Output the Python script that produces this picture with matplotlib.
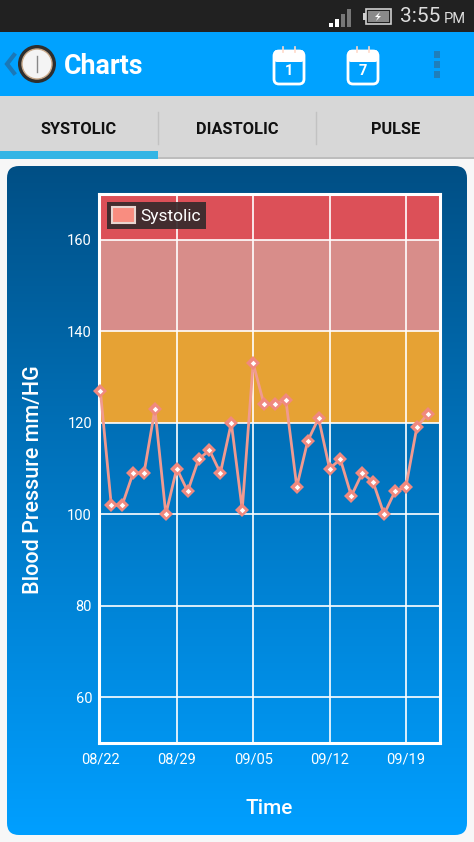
import numpy as np
import pandas as pd
import matplotlib
matplotlib.use('Agg')
import matplotlib.pyplot as plt
import matplotlib.dates as mdates
from matplotlib.colors import LinearSegmentedColormap
from matplotlib.patches import Rectangle, FancyBboxPatch, Circle, Patch

plt.rcParams['font.family'] = ['Roboto', 'DejaVu Sans']

# values
systolic = [127, 102, 102, 109, 109, 123, 100, 110, 105, 112, 114, 109, 120, 101, 133, 124,
            124, 125, 106, 116, 121, 110, 112, 104, 109, 107, 100, 105, 106, 119, 122]
start_date = '2013-08-22'
x_ticks = ['2013-08-22', '2013-08-29', '2013-09-05', '2013-09-12', '2013-09-19']
y_ticks = [60, 80, 100, 120, 140, 160]
band_limits = [(120, 140), (140, 160), (160, 170)]
band_colors = ['#e6a234', '#d88d8a', '#dc5058']
tab_names = ['SYSTOLIC', 'DIASTOLIC', 'PULSE']
calendar_days = ['1', '7']

dates = pd.date_range(start_date, periods=len(systolic))

W, H = 474, 842
fig = plt.figure(figsize=(W / 100, H / 100), dpi=100, facecolor='#f7f7f7')

# phone screen drawn in pixel coordinates
ui = fig.add_axes([0, 0, 1, 1], zorder=0)

# rounded gradient panel behind the chart
panel = FancyBboxPatch((7 + 12, 166 + 12), 460 - 24, 669 - 24, boxstyle='round,pad=12,rounding_size=12',
                       linewidth=0, facecolor='none')
ui.add_patch(panel)
grad_cmap = LinearSegmentedColormap.from_list('panel', ['#004f85', '#006bb0', '#0085d8', '#009fff'])
grad = np.linspace(0, 1, 256).reshape(-1, 1)
im = ui.imshow(grad, cmap=grad_cmap, extent=(7, 467, 835, 166), aspect='auto')
im.set_clip_path(panel)

# status bar
ui.add_patch(Rectangle((0, 0), W, 32, color='#212121', lw=0))
for i, (col, top) in enumerate(zip(['white', 'white', '#777777', '#777777'], [23, 19, 14, 9])):
    ui.add_patch(Rectangle((329 + i * 6, top), 4.5, 27 - top, color=col, lw=0))
ui.add_patch(Rectangle((366, 9), 25, 15, fill=False, ec='#cfcfcf', lw=1.2))
ui.add_patch(Rectangle((368, 11), 21, 11, color='#8a8a8a', lw=0))
ui.add_patch(Rectangle((363, 13), 3, 7, color='#cfcfcf', lw=0))
ui.fill([380, 375, 378, 376, 381, 378], [12, 17, 17, 21, 16, 16], color='white', lw=0)
ui.text(400, 17, '3:55', color='#dddddd', fontsize=15, ha='left', va='center')
ui.text(444, 19, 'PM', color='#dddddd', fontsize=10.5, ha='left', va='center')

# action bar
ui.add_patch(Rectangle((0, 32), W, 64, color='#00a2ff', lw=0))
ui.plot([14, 7, 14], [55, 64, 73], color='#1b78b8', lw=3, solid_joinstyle='miter')
ui.add_patch(Circle((37, 64), 19, fc='#2e2e2e', ec='none'))
ui.add_patch(Circle((37, 64), 15, fc='#f4f4f4', ec='#c8a98a', lw=1))
ui.plot([37, 37], [56, 72], color='#888888', lw=1)
ui.text(64, 66, 'Charts', color='white', fontsize=19.3, fontweight='bold', ha='left', va='center')
for left, day in zip([273, 347], calendar_days):
    ui.add_patch(FancyBboxPatch((left + 4, 54), 24, 27, boxstyle='round,pad=3,rounding_size=5',
                                fc='#00a2ff', ec='white', lw=2))
    ui.add_patch(FancyBboxPatch((left + 3, 52), 26, 8, boxstyle='round,pad=2,rounding_size=3',
                                fc='white', ec='none'))
    ui.plot([left + 10, left + 10], [47, 52], color='#ffd9c8', lw=1.2)
    ui.plot([left + 22, left + 22], [47, 52], color='#ffd9c8', lw=1.2)
    ui.text(left + 16, 71, day, color='white', fontsize=10.5, fontweight='bold', ha='center', va='center')
for top in [51, 61, 71]:
    ui.add_patch(Rectangle((434, top), 6.5, 6.5, color='#1f7fba', lw=0))

# tabs
ui.add_patch(Rectangle((0, 96), W, 61, color='#d7d7d7', lw=0))
ui.add_patch(Rectangle((0, 157), W, 2, color='#bdbdbd', lw=0))
ui.add_patch(Rectangle((0, 151), 158, 8, color='#33b5e5', lw=0))
for x in [158.5, 316.5]:
    ui.plot([x, x], [112, 144], color='#c2c2c2', lw=1)
for x, name in zip([79, 237.5, 396], tab_names):
    ui.text(x, 130, name, color='#111111', fontsize=11.8, fontweight='bold', ha='center', va='center')

ui.text(269, 809, 'Time', color='white', fontsize=15, fontweight='medium', ha='center', va='center')
ui.text(34, 480, 'Blood Pressure mm/HG', color='white', fontsize=15.5, fontweight='medium',
        rotation=90, ha='center', va='center')

ui.set_xlim(0, W)
ui.set_ylim(H, 0)
ui.axis('off')

# chart itself
ax = fig.add_axes([99 / W, 1 - 743 / H, 341 / W, 549 / H], zorder=1)
ax.patch.set_visible(False)

for (low, high), color in zip(band_limits, band_colors):
    ax.axhspan(low, high, color=color, lw=0, zorder=1)

ax.grid(True, color='white', lw=1.2, zorder=2)
ax.set_axisbelow(False)
ax.plot(dates, systolic, color='#f09a90', lw=2, marker='D', ms=7, mfc='#f0897f', mew=0,
        zorder=6, clip_on=False, label='Systolic')
ax.plot(dates, systolic, ls='none', marker='D', ms=2.8, mfc='white', mew=0, zorder=7, clip_on=False)

ax.set_ylim(50, 170)
ax.set_xlim(pd.Timestamp('2013-08-21 21:00'), pd.Timestamp('2013-09-22 03:00'))
ax.set_yticks(y_ticks)
ax.set_xticks(pd.to_datetime(x_ticks))
ax.xaxis.set_major_formatter(mdates.DateFormatter('%m/%d'))
ax.tick_params(axis='both', length=0, colors='white', labelsize=10.5)
ax.tick_params(axis='x', pad=7)
ax.tick_params(axis='y', pad=5)
for spine in ax.spines.values():
    spine.set_color('white')
    spine.set_linewidth(2.2)

handle = Patch(facecolor='#f98d80', edgecolor='#e8d5d0', linewidth=1.5, label='Systolic')
leg = ax.legend(handles=[handle], loc='upper left', bbox_to_anchor=(8 / 341, 1 - 8 / 549), borderaxespad=0,
                fontsize=12.5, fancybox=False, facecolor='#362a2c', edgecolor='none', framealpha=0.92,
                labelcolor='white', handlelength=1.3, handleheight=1.0, handletextpad=0.3,
                borderpad=0.3)
leg.set_zorder(5)

fig.savefig('out.png', dpi=100, facecolor=fig.get_facecolor())
